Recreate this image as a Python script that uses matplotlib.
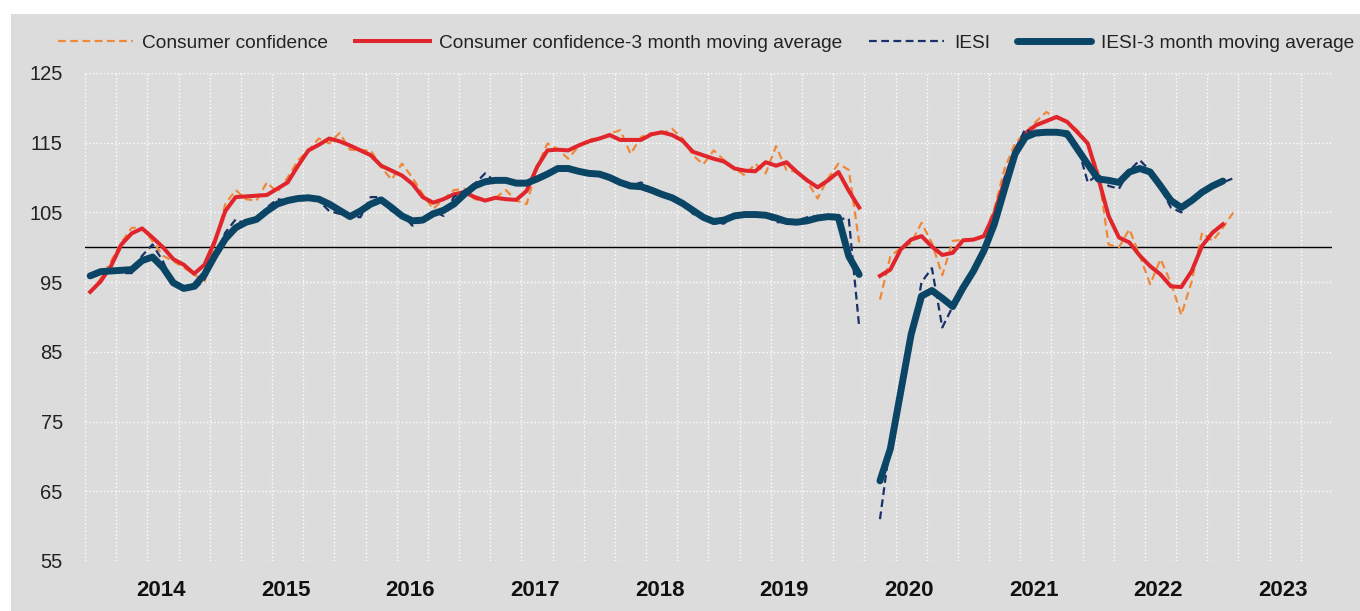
import numpy as np
import matplotlib
matplotlib.use("Agg")
import matplotlib.pyplot as plt
from matplotlib.patches import Rectangle

plt.rcParams['font.family'] = ['Liberation Sans', 'DejaVu Sans']

nan = np.nan

# monthly values, Jan 2014 .. Mar 2023 (Apr 2020 missing)
consumer_conf = [
    93.5, 95.5, 98.0, 100.7, 102.8, 102.8, 100.9, 98.8, 98.0, 97.1, 96.1, 95.1,
    100.4, 106.2, 108.2, 106.9, 106.7, 109.3, 107.9, 110.0, 112.5, 113.9, 115.6, 114.9,
    116.4, 114.0, 113.9, 113.9, 111.5, 109.7, 112.0, 110.0, 107.6, 105.5, 106.9, 108.2,
    108.4, 106.9, 106.7, 107.1, 108.2, 106.7, 106.2, 111.5, 114.9, 114.1, 112.7, 114.5,
    115.5, 115.6, 116.3, 116.8, 113.4, 115.8, 116.4, 116.3, 117.0, 115.6, 113.2, 111.9,
    113.9, 112.5, 111.3, 110.3, 112.0, 110.6, 114.5, 111.1, 110.8, 109.4, 107.0, 109.9,
    112.0, 111.1, 100.7, nan, 92.5, 98.7, 99.9, 100.6, 103.5, 100.6, 96.0, 100.9,
    101.1, 101.0, 101.6, 105.5, 111.3, 114.9, 116.5, 118.0, 119.4, 118.5, 118.1, 116.8,
    114.9, 110.8, 100.4, 100.0, 102.6, 98.8, 94.7, 98.3, 94.9, 90.3, 95.1, 102.1,
    100.9, 102.8, 105.0,
]

consumer_conf_ma = [
    93.6, 95.1, 97.3, 100.4, 102.0, 102.7, 101.4, 100.0, 98.3, 97.5, 96.2, 97.5,
    100.9, 105.2, 107.2, 107.3, 107.4, 107.5, 108.4, 109.3, 111.7, 113.9, 114.7, 115.6,
    115.2, 114.6, 113.9, 113.2, 111.7, 111.0, 110.3, 109.1, 107.2, 106.4, 106.9, 107.6,
    107.9, 107.2, 106.7, 107.1, 106.9, 106.8, 108.1, 111.5, 113.9, 114.0, 113.9, 114.6,
    115.2, 115.6, 116.1, 115.4, 115.4, 115.4, 116.2, 116.5, 116.1, 115.3, 113.7, 113.2,
    112.7, 112.3, 111.3, 111.0, 110.9, 112.2, 111.7, 112.2, 110.8, 109.6, 108.6, 109.6,
    110.8, 108.1, 105.7, nan, 95.9, 96.8, 99.7, 101.1, 101.6, 100.1, 98.9, 99.2,
    101.0, 101.1, 101.6, 104.8, 109.6, 113.9, 116.3, 117.5, 118.1, 118.7, 118.0, 116.5,
    114.9, 110.0, 104.5, 101.4, 100.7, 98.8, 97.3, 96.1, 94.4, 94.3, 96.6, 100.2,
    102.1, 103.3, nan,
]

iesi = [
    96.1, 96.8, 96.8, 96.3, 96.3, 98.8, 100.4, 98.0, 94.7, 94.2, 93.9, 95.4,
    98.5, 102.1, 104.0, 103.3, 103.8, 105.7, 106.9, 106.7, 107.2, 106.9, 106.7, 105.2,
    104.8, 104.5, 104.3, 107.2, 107.2, 105.2, 104.8, 103.1, 103.8, 105.2, 104.5, 107.2,
    108.1, 109.1, 110.6, 109.4, 109.4, 109.1, 109.4, 110.1, 110.8, 111.3, 111.7, 110.8,
    110.3, 110.8, 110.3, 109.1, 108.8, 109.3, 108.4, 107.6, 107.1, 106.4, 104.8, 104.1,
    103.4, 103.4, 104.8, 104.8, 104.8, 104.5, 103.6, 103.6, 103.8, 104.3, 104.5, 104.5,
    104.1, 104.1, 88.6, nan, 61.0, 72.0, 80.0, 86.5, 95.0, 97.0, 88.5, 91.5,
    94.5, 96.5, 99.5, 102.5, 110.0, 114.0, 117.0, 116.0, 116.3, 116.5, 115.8, 114.6,
    109.3, 110.5, 108.8, 108.4, 111.0, 112.5, 111.0, 108.5, 105.7, 105.0, 106.7, 108.0,
    108.8, 109.3, 109.9,
]

iesi_ma = [
    95.9, 96.5, 96.6, 96.7, 96.8, 98.1, 98.6, 97.1, 94.9, 94.1, 94.4, 96.1,
    98.8, 101.2, 102.8, 103.6, 104.0, 105.2, 106.2, 106.7, 107.0, 107.1, 106.9, 106.2,
    105.3, 104.4, 105.2, 106.2, 106.8, 105.7, 104.5, 103.8, 103.9, 104.8, 105.3, 106.2,
    107.6, 108.8, 109.4, 109.6, 109.6, 109.2, 109.2, 109.8, 110.5, 111.3, 111.3, 110.9,
    110.6, 110.5, 110.0, 109.3, 108.8, 108.7, 108.2, 107.6, 107.1, 106.3, 105.3, 104.3,
    103.7, 103.9, 104.5, 104.7, 104.7, 104.6, 104.2, 103.7, 103.6, 103.8, 104.2, 104.4,
    104.3, 98.7, 96.1, nan, 66.5, 71.1, 79.3, 87.5, 93.0, 93.8, 92.7, 91.5,
    94.2, 96.6, 99.5, 103.3, 108.4, 113.4, 115.8, 116.4, 116.5, 116.5, 116.3, 114.1,
    111.9, 109.8, 109.6, 109.3, 110.8, 111.3, 110.8, 108.8, 106.7, 105.7, 106.7, 107.9,
    108.8, 109.5, nan,
]

years = [str(y) for y in range(2014, 2024)]
yticks = [55, 65, 75, 85, 95, 105, 115, 125]

months = np.arange(len(consumer_conf))

fig = plt.figure(figsize=(13.6, 6.11), dpi=100, facecolor='white')
# grey panel behind everything
fig.patches.append(Rectangle((11 / 1360, 0), 1, 1 - 14 / 611, transform=fig.transFigure,
                             facecolor='#dcdcdc', edgecolor='none', zorder=-5))

ax = fig.add_axes([85 / 1360, 50 / 611, 1247 / 1360, 488 / 611])
ax.set_facecolor('#dcdcdc')

ax.plot(months, consumer_conf, color='#f0883a', lw=1.6, dashes=(3.5, 2),
        label='Consumer confidence', zorder=3)
ax.plot(months, consumer_conf_ma, color='#e0262c', lw=2.9,
        label='Consumer confidence-3 month moving average', zorder=4)
ax.plot(months, iesi, color='#1a3068', lw=1.6, dashes=(3.5, 2),
        label='IESI', zorder=5)
ax.plot(months, iesi_ma, color='#0b4566', lw=5, solid_capstyle='round',
        label='IESI-3 month moving average', zorder=6)

ax.axhline(100, color='black', lw=1, zorder=2)

ax.set_xlim(-0.5, 119.5)
ax.set_ylim(55, 125)
ax.set_yticks(yticks)
ax.set_yticklabels([str(v) for v in yticks], fontsize=14.5, color='#222222')

# quarter grid lines, year labels in between
ax.set_xticks(np.arange(-0.5, 120, 3), minor=True)
ax.set_xticks([6.8 + 12 * k for k in range(len(years))])
ax.set_xticklabels(years, fontsize=16, fontweight='bold', color='#111111')
ax.tick_params(axis='both', which='both', length=0)
ax.tick_params(axis='x', pad=14)
ax.tick_params(axis='y', pad=16)
ax.grid(axis='x', which='minor', color='white', linestyle=':', lw=1)
ax.grid(axis='y', which='major', color='white', linestyle=':', lw=1)
ax.grid(axis='x', which='major', visible=False)
for s in ax.spines.values():
    s.set_visible(False)

fig.legend(loc='center', bbox_to_anchor=(706 / 1360, 1 - 43 / 611), ncol=4,
           frameon=False, fontsize=13.8, handlelength=3.9, handletextpad=0.5,
           columnspacing=1.4, labelcolor='#222222')

fig.savefig('out.png', dpi=100, facecolor='white')
